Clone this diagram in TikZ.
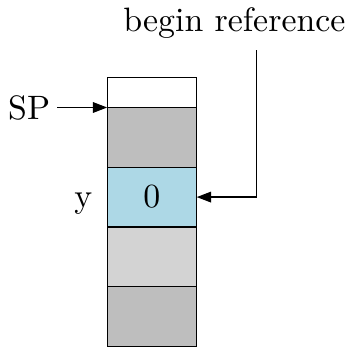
\documentclass[tikz,border=0pt]{standalone}
\usetikzlibrary{positioning, arrows.meta}

\definecolor{slotgray}{RGB}{190,190,190}
\definecolor{slotsilver}{RGB}{211,211,211}
\definecolor{slotblue}{RGB}{173,216,230}

\tikzset{
  slot/.style={draw, minimum width=27pt, minimum height=18pt,
    inner sep=0pt, outer sep=0pt},
  ptr/.style={-{Triangle[length=4.3pt, width=3.2pt]}},
  lbl/.style={text height=1.5ex, text depth=0pt}
}

\begin{document}
\begin{tikzpicture}[font=\fontsize{10.2}{12}\selectfont]

  \useasboundingbox (0pt,0pt) rectangle (108.2pt,-104.6pt);

  % ────────────────────────────────────────────────────────────────────
  % Stack column (top slot is half height, empty)
  % ────────────────────────────────────────────────────────────────────
  \node[slot, minimum height=9pt] (free) at (45.8pt,-27.9pt) {};
  \node[slot, fill=slotgray,   below=0pt of free]  (s1) {};
  \node[slot, fill=slotblue,   below=0pt of s1]    (s2) {0};
  \node[slot, fill=slotsilver, below=0pt of s2]    (s3) {};
  \node[slot, fill=slotgray,   below=0pt of s3]    (s4) {};

  % Stack pointer
  \node[left=15pt of free.south west, inner sep=2pt] (sp) {SP};
  \draw[ptr] (sp.east) -- (free.south west);

  % Variable name
  \node[lbl, left=1pt of s2.west] (var) {y};

  % ────────────────────────────────────────────────────────────────────
  % Reference pointer coming down from the label
  % ────────────────────────────────────────────────────────────────────
  \node[anchor=base] (ref) at (70.65pt,-9.5pt) {begin reference};
  \coordinate[right=18pt of s2.east] (turn);
  \draw[ptr] (ref.south -| turn) -- (turn) -- (s2.east);

\end{tikzpicture}
\end{document}
